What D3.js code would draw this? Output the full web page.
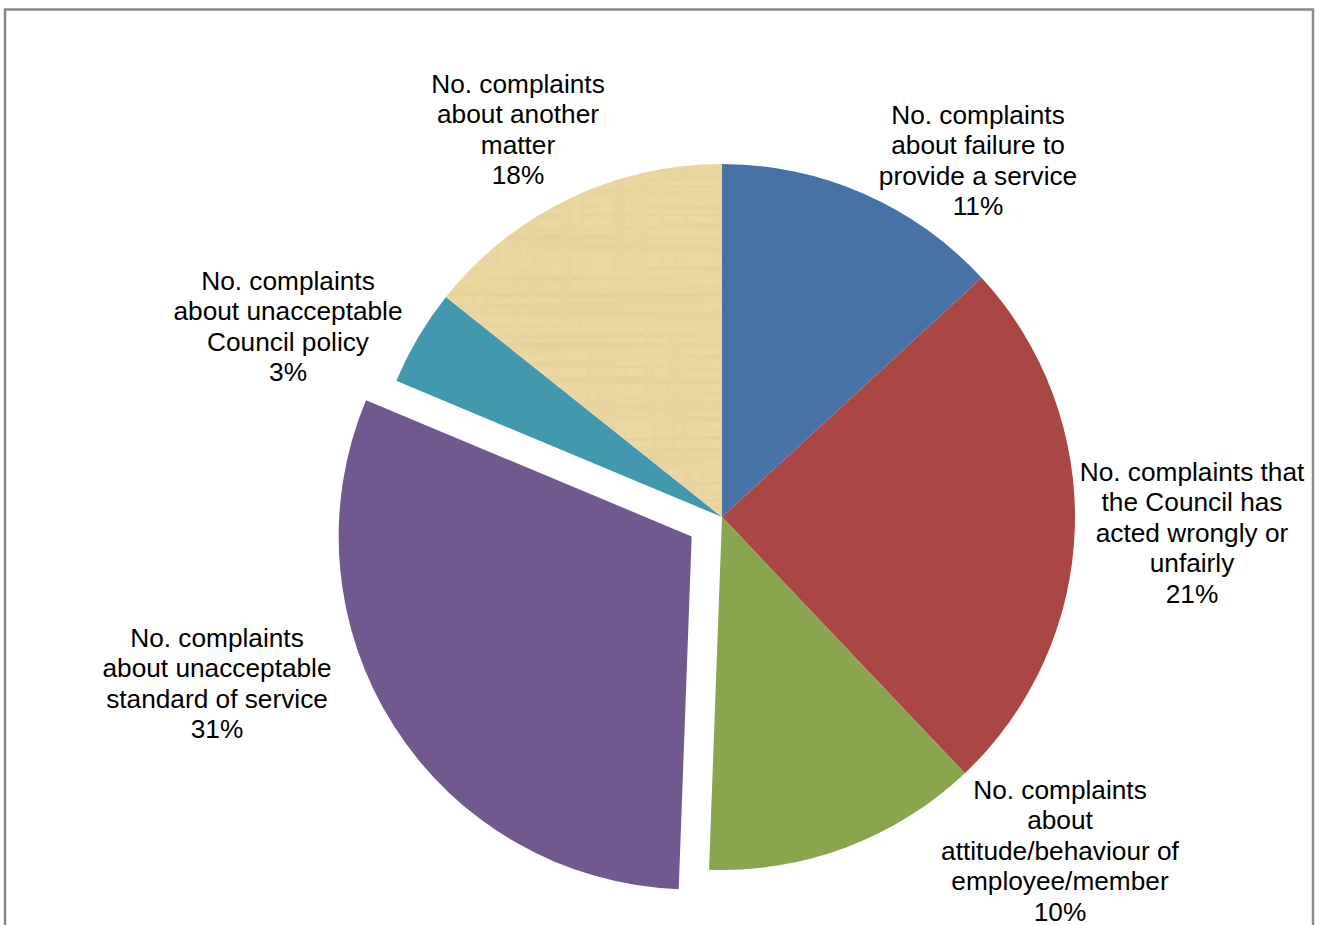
<!DOCTYPE html>
<html>
<head>
<meta charset="utf-8">
<script src="https://cdn.jsdelivr.net/npm/d3@7"></script>
<style>
  body { margin: 0; background: #fff; }
  svg text { font-family: "Liberation Sans", Arial, sans-serif; fill: #000; }
</style>
</head>
<body>
<script>
// slice data, clockwise from 12 o'clock
var categories = [
  ["No. complaints", "about failure to", "provide a service"],
  ["No. complaints that", "the Council has", "acted wrongly or", "unfairly"],
  ["No. complaints", "about", "attitude/behaviour of", "employee/member"],
  ["No. complaints", "about unacceptable", "standard of service"],
  ["No. complaints", "about unacceptable", "Council policy"],
  ["No. complaints", "about another", "matter"]
];
var values = [13.15, 24.78, 12.66, 30.72, 4.41, 14.29];
var percentLabels = ["11%", "21%", "10%", "31%", "3%", "18%"];
var colors = ["#4672A6", "#AA4744", "#89A54E", "#71588F", "#4298AF", "#EDD7A2"];
var exploded = [0, 0, 0, 1, 0, 0];

// label anchor offsets from pie centre (x centre, first baseline)
var labelOffsets = [[256, -393], [470, -36], [338, 282], [-505, 130], [-434, -227], [-204, -424]];

var width = 1320, height = 925;
var cx = 722, cy = 517, radius = 353, explodeDist = 36;

var svg = d3.select("body").append("svg")
  .attr("width", width)
  .attr("height", height);

// papyrus texture for the last slice
var defs = svg.append("defs");
var filt = defs.append("filter")
  .attr("id", "papyrus")
  .attr("x", "0%").attr("y", "0%").attr("width", "100%").attr("height", "100%");
filt.append("feTurbulence")
  .attr("type", "fractalNoise")
  .attr("baseFrequency", "0.004 0.16")
  .attr("numOctaves", 3)
  .attr("seed", 4)
  .attr("result", "hnoise");
filt.append("feTurbulence")
  .attr("type", "fractalNoise")
  .attr("baseFrequency", "0.18 0.005")
  .attr("numOctaves", 3)
  .attr("seed", 9)
  .attr("result", "vnoise");
filt.append("feColorMatrix")
  .attr("in", "hnoise")
  .attr("type", "matrix")
  .attr("values", "0 0 0 0 0.74  0 0 0 0 0.60  0 0 0 0 0.30  3.2 0 0 0 -1.35")
  .attr("result", "hstreak");
filt.append("feColorMatrix")
  .attr("in", "vnoise")
  .attr("type", "matrix")
  .attr("values", "0 0 0 0 0.78  0 0 0 0 0.64  0 0 0 0 0.34  3.2 0 0 0 -1.35")
  .attr("result", "vstreak");
var merge = filt.append("feMerge").attr("result", "streaks");
merge.append("feMergeNode").attr("in", "hstreak");
merge.append("feMergeNode").attr("in", "vstreak");
filt.append("feComposite")
  .attr("in", "streaks").attr("in2", "SourceAlpha").attr("operator", "in");

// outer frame
svg.append("rect")
  .attr("x", 5).attr("y", 9.5)
  .attr("width", 1308).attr("height", 960)
  .attr("fill", "none")
  .attr("stroke", "#8a8a8a")
  .attr("stroke-width", 2.5);

var pie = d3.pie().sort(null).value(function(d) { return d; });
var arc = d3.arc().innerRadius(0).outerRadius(radius);
var arcs = pie(values);

var g = svg.append("g").attr("transform", "translate(" + cx + "," + cy + ")");

var slices = g.selectAll("g.slice")
  .data(arcs)
  .enter()
  .append("g")
  .attr("class", "slice")
  .attr("transform", function(d, i) {
    if (!exploded[i]) return null;
    var mid = (d.startAngle + d.endAngle) / 2;
    return "translate(" + (Math.sin(mid) * explodeDist) + "," + (-Math.cos(mid) * explodeDist) + ")";
  });

slices.append("path")
  .attr("d", arc)
  .attr("fill", function(d, i) { return colors[i]; });

// texture overlay on the "another matter" slice
slices.filter(function(d, i) { return i === 5; })
  .append("path")
  .attr("d", arc)
  .attr("fill", "#000")
  .attr("filter", "url(#papyrus)")
  .attr("opacity", 0.6);

// data labels
var lineH = 30.5;
var labels = g.selectAll("g.label")
  .data(arcs)
  .enter()
  .append("g")
  .attr("class", "label")
  .attr("transform", function(d, i) {
    return "translate(" + labelOffsets[i][0] + "," + labelOffsets[i][1] + ") scale(1.05,1)";
  });

labels.each(function(d, i) {
  var lines = categories[i].concat([percentLabels[i]]);
  d3.select(this).selectAll("text")
    .data(lines)
    .enter()
    .append("text")
    .attr("x", 0)
    .attr("y", function(t, k) { return k * lineH; })
    .attr("text-anchor", "middle")
    .style("font-size", "25px")
    .text(function(t) { return t; });
});
</script>
</body>
</html>
